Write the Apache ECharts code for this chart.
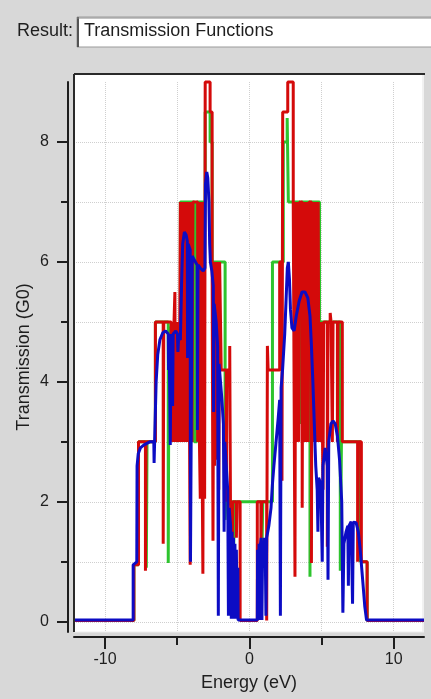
<!DOCTYPE html>
<html>
<head>
<meta charset="utf-8">
<script src="https://cdn.jsdelivr.net/npm/echarts@6/dist/echarts.min.js"></script>
<style>
  html, body { margin: 0; padding: 0; background: #d8d8d8; }
  #chart { width: 431px; height: 699px; }
</style>
</head>
<body>
<div id="chart"></div>
<script>
// Transmission spectra T(E) in units of G0, energies in eV.
const resultTitle = 'Transmission Functions';
const xTickValues = [-10, -5, 0, 5, 10];
const xLabelValues = [-10, 0, 10];
const yTickValues = [0, 1, 2, 3, 4, 5, 6, 7, 8];
const yLabelValues = [0, 2, 4, 6, 8];

// Green curve (step-like, integer channels)
const greenCurve = [
  [-12.15, 0.02], [-8.0, 0.02], [-8.0, 0.95], [-7.68, 0.95], [-7.68, 3.0],
  [-7.14, 3.0], [-7.14, 0.9], [-7.09, 0.9], [-7.09, 3.0],
  [-6.51, 3.0], [-6.51, 5.0],
  [-5.62, 5.0], [-5.62, 0.98], [-5.57, 0.98], [-5.57, 4.9],
  [-4.78, 4.9], [-4.78, 7.0],
  [-3.82, 7.0], [-3.82, 3.0], [-3.64, 3.0], [-3.64, 7.0],
  [-3.06, 7.0], [-3.06, 8.5], [-2.72, 8.5], [-2.72, 8.0], [-2.58, 8.0], [-2.58, 6.0],
  [-1.68, 6.0], [-1.68, 1.7], [-1.63, 1.7], [-1.63, 2.0],
  [-1.08, 2.0], [-1.08, 1.3], [-1.03, 1.3], [-1.03, 2.0],
  [0.88, 2.0], [0.88, 1.3], [0.93, 1.3], [0.93, 2.0],
  [1.6, 2.0], [1.6, 6.0],
  [2.35, 6.0], [2.35, 8.0], [2.62, 8.0], [2.62, 8.4], [2.7, 8.4], [2.7, 7.0],
  [3.5, 7.0], [3.5, 3.3], [3.62, 3.3], [3.62, 7.0],
  [4.2, 7.0], [4.2, 0.75], [4.25, 0.75], [4.25, 7.0],
  [4.86, 7.0], [4.86, 5.0],
  [6.3, 5.0], [6.3, 0.85], [6.38, 0.85], [6.38, 3.0],
  [7.7, 3.0], [7.7, 1.0],
  [8.16, 1.0], [8.16, 0.02], [12.1, 0.02]
];

// Red curve (step-like, integer channels, densely oscillating near the band centres)
const redCurve = [
  [-12.15, 0.02], [-8.0, 0.02], [-8.0, 0.95], [-7.68, 0.95], [-7.68, 3.0],
  [-7.2, 3.0], [-7.2, 0.85], [-7.16, 0.85], [-7.16, 3.0],
  [-6.51, 3.0], [-6.51, 5.0],
  [-5.97, 5.0], [-5.97, 1.3], [-5.93, 1.3], [-5.93, 5.0],
  [-5.42, 5.0], [-5.42, 3.0], [-5.36, 3.0], [-5.36, 5.0],
  [-5.28, 5.0], [-5.28, 3.0], [-5.22, 3.0], [-5.22, 5.0],
  [-5.16, 5.0], [-5.16, 5.5], [-5.12, 5.5], [-5.12, 3.0], [-5.06, 3.0], [-5.06, 5.0],
  [-5.0, 5.0], [-5.0, 3.0], [-4.94, 3.0], [-4.94, 5.0],
  [-4.88, 5.0], [-4.88, 3.0], [-4.82, 3.0], [-4.82, 5.0],
  [-4.78, 5.0], [-4.78, 7.0],
  [-4.7, 7.0], [-4.7, 3.0], [-4.63, 3.0], [-4.63, 7.0], [-4.56, 7.0], [-4.56, 3.0],
  [-4.49, 3.0], [-4.49, 7.0], [-4.42, 7.0], [-4.42, 3.0], [-4.35, 3.0], [-4.35, 7.0],
  [-4.28, 7.0], [-4.28, 3.0], [-4.21, 3.0], [-4.21, 7.0], [-4.14, 7.0], [-4.14, 3.0],
  [-4.1, 3.0], [-4.1, 0.95], [-4.04, 0.95], [-4.04, 7.0],
  [-3.98, 7.0], [-3.98, 3.0], [-3.91, 3.0], [-3.91, 7.0],
  [-3.58, 7.0], [-3.58, 3.0], [-3.52, 3.0], [-3.52, 7.0], [-3.46, 7.0], [-3.46, 3.0],
  [-3.4, 3.0], [-3.4, 2.05], [-3.34, 2.05], [-3.34, 7.0], [-3.28, 7.0], [-3.28, 3.0],
  [-3.22, 3.0], [-3.22, 0.8], [-3.16, 0.8], [-3.16, 7.0],
  [-3.1, 7.0], [-3.1, 2.05], [-3.06, 2.05], [-3.06, 9.0],
  [-2.72, 9.0], [-2.72, 8.5], [-2.58, 8.5], [-2.58, 6.0],
  [-2.52, 6.0], [-2.52, 1.35], [-2.46, 1.35], [-2.46, 6.0], [-2.4, 6.0], [-2.4, 2.6],
  [-2.33, 2.6], [-2.33, 6.0], [-2.26, 6.0], [-2.26, 2.7], [-2.19, 2.7], [-2.19, 6.0],
  [-2.12, 6.0], [-2.12, 2.2], [-2.06, 2.2], [-2.06, 6.0],
  [-1.95, 6.0], [-1.95, 4.2],
  [-1.6, 4.2], [-1.6, 2.0], [-1.55, 2.0], [-1.55, 4.2],
  [-1.36, 4.2], [-1.36, 4.6], [-1.31, 4.6], [-1.31, 2.0],
  [-1.2, 2.0], [-1.2, 1.0], [-1.15, 1.0], [-1.15, 2.0],
  [-0.9, 2.0], [-0.9, 1.4], [-0.85, 1.4], [-0.85, 2.0],
  [-0.64, 2.0], [-0.64, 0.02],
  [0.55, 0.02], [0.55, 2.0],
  [0.8, 2.0], [0.8, 1.3], [0.85, 1.3], [0.85, 2.0],
  [1.2, 2.0], [1.2, 0.02], [1.25, 0.02], [1.25, 4.6], [1.3, 4.6], [1.3, 4.2],
  [2.1, 4.2], [2.1, 6.0],
  [2.26, 6.0], [2.26, 2.35], [2.31, 2.35], [2.31, 8.5],
  [2.66, 8.5], [2.66, 9.0],
  [3.04, 9.0], [3.04, 7.0],
  [3.16, 7.0], [3.16, 0.75], [3.21, 0.75], [3.21, 7.0],
  [3.28, 7.0], [3.28, 3.0], [3.35, 3.0], [3.35, 7.0], [3.42, 7.0], [3.42, 3.0],
  [3.48, 3.0], [3.48, 7.0],
  [3.66, 7.0], [3.66, 1.9], [3.72, 1.9], [3.72, 7.0], [3.79, 7.0], [3.79, 3.0],
  [3.86, 3.0], [3.86, 7.0], [3.93, 7.0], [3.93, 3.0], [4.0, 3.0], [4.0, 7.0],
  [4.07, 7.0], [4.07, 3.0], [4.14, 3.0], [4.14, 7.0],
  [4.3, 7.0], [4.3, 0.98], [4.35, 0.98], [4.35, 7.0],
  [4.42, 7.0], [4.42, 3.0], [4.49, 3.0], [4.49, 7.0], [4.56, 7.0], [4.56, 3.0],
  [4.63, 3.0], [4.63, 7.0], [4.7, 7.0], [4.7, 3.0], [4.77, 3.0], [4.77, 7.0],
  [4.82, 7.0], [4.82, 3.0], [4.86, 3.0], [4.86, 5.0],
  [4.94, 5.0], [4.94, 3.0], [5.0, 3.0], [5.0, 5.0],
  [5.1, 5.0], [5.1, 2.2], [5.15, 2.2], [5.15, 5.0],
  [5.4, 5.0], [5.4, 1.25], [5.45, 1.25], [5.45, 5.0],
  [5.6, 5.0], [5.6, 5.15], [5.66, 5.15], [5.66, 5.0],
  [5.75, 5.0], [5.75, 3.0], [5.8, 3.0], [5.8, 5.0],
  [6.1, 5.0], [6.1, 3.0], [6.15, 3.0], [6.15, 5.0],
  [6.44, 5.0], [6.44, 3.0],
  [7.5, 3.0], [7.5, 1.0], [7.55, 1.0], [7.55, 3.0],
  [7.76, 3.0], [7.76, 1.0],
  [8.16, 1.0], [8.16, 0.02], [12.1, 0.02]
];

// Blue curve (smooth, with sharp dips)
const blueCurve = [
  [-12.15, 0.03], [-8.05, 0.03], [-8.05, 0.95], [-7.8, 1.0], [-7.78, 2.6], [-7.7, 2.8],
  [-7.55, 2.9], [-7.3, 2.95], [-6.9, 3.0], [-6.62, 3.0], [-6.6, 2.65], [-6.48, 2.65],
  [-6.46, 4.0], [-6.35, 4.45], [-6.2, 4.7], [-6.0, 4.82], [-5.8, 4.85], [-5.62, 4.8],
  [-5.6, 4.2], [-5.56, 4.8], [-5.5, 4.78], [-5.48, 2.95], [-5.44, 2.95], [-5.42, 4.8],
  [-5.34, 4.8], [-5.32, 3.6], [-5.28, 4.8], [-5.1, 4.85], [-4.98, 4.8], [-4.95, 4.5],
  [-4.9, 4.75], [-4.78, 4.7], [-4.7, 5.6], [-4.62, 6.3], [-4.5, 6.5], [-4.38, 6.45],
  [-4.3, 6.35], [-4.28, 4.4], [-4.24, 6.3], [-4.1, 6.2], [-4.08, 1.0], [-3.98, 1.0],
  [-3.96, 6.1], [-3.85, 6.05], [-3.62, 5.95], [-3.6, 3.2], [-3.56, 5.95], [-3.4, 5.9],
  [-3.2, 5.85], [-3.08, 5.9], [-3.04, 7.3], [-2.95, 7.5], [-2.88, 7.4], [-2.8, 7.0],
  [-2.75, 6.3], [-2.7, 6.0], [-2.6, 5.85], [-2.5, 5.6], [-2.48, 3.5], [-2.44, 5.3],
  [-2.3, 5.0], [-2.2, 4.6], [-2.15, 0.1], [-2.1, 4.3], [-2.0, 4.0], [-1.9, 3.7],
  [-1.8, 3.3], [-1.75, 1.5], [-1.7, 3.0], [-1.6, 2.6], [-1.5, 2.2], [-1.45, 0.1],
  [-1.4, 1.9], [-1.3, 1.6], [-1.25, 0.05], [-1.2, 1.5], [-1.15, 0.05], [-1.1, 1.4],
  [-1.05, 0.05], [-1.0, 1.3], [-0.95, 0.05], [-0.9, 1.2], [-0.85, 0.05], [-0.8, 0.9],
  [-0.78, 0.03], [0.55, 0.03], [0.57, 1.2], [0.62, 0.03], [0.67, 1.3], [0.72, 0.03],
  [0.77, 1.3], [0.82, 1.4], [0.87, 0.03], [0.92, 1.3], [1.0, 1.25], [1.05, 1.4],
  [1.1, 1.2], [1.15, 0.1], [1.2, 1.4], [1.35, 1.6], [1.5, 1.9], [1.6, 2.3],
  [1.7, 2.6], [1.85, 3.0], [2.0, 3.4], [2.1, 3.7], [2.15, 0.1], [2.2, 3.9],
  [2.3, 4.2], [2.45, 4.8], [2.55, 5.4], [2.63, 5.9], [2.7, 6.0], [2.78, 5.7],
  [2.85, 5.2], [2.95, 4.9], [3.1, 4.85], [3.25, 5.1], [3.45, 5.35], [3.65, 5.5],
  [3.85, 5.5], [4.05, 5.4], [4.2, 5.1], [4.3, 4.6], [4.4, 4.0], [4.5, 3.3],
  [4.6, 2.6], [4.7, 2.2], [4.75, 1.5], [4.8, 2.4], [4.95, 2.3], [5.05, 1.0],
  [5.1, 2.6], [5.25, 2.9], [5.4, 2.6], [5.45, 0.7], [5.5, 3.0], [5.65, 3.3],
  [5.8, 3.35], [5.95, 3.3], [6.1, 3.1], [6.25, 2.7], [6.4, 2.0], [6.48, 0.15],
  [6.55, 1.3], [6.7, 1.5], [6.82, 1.6], [6.86, 0.6], [6.9, 1.6], [7.05, 1.67],
  [7.15, 0.3], [7.2, 1.66], [7.4, 1.65], [7.55, 1.5], [7.68, 1.2], [7.85, 0.7],
  [8.0, 0.25], [8.12, 0.03], [12.1, 0.03]
];

const FONT = 'Liberation Sans, Arial, sans-serif';
const INK = '#1e1e1e';
const X_MIN = -12.15, X_MAX = 12.1;
const Y_MIN = -0.17, Y_MAX = 9.0;

function curve(name, data, color) {
  return {
    name: name,
    type: 'line',
    data: data,
    showSymbol: false,
    symbol: 'none',
    clip: false,
    animation: false,
    lineStyle: { color: color, width: 3 },
    emphasis: { disabled: true }
  };
}

const chart = echarts.init(document.getElementById('chart'));
chart.setOption({
  backgroundColor: '#d8d8d8',
  animation: false,
  textStyle: { fontFamily: FONT },
  grid: { left: 74, right: 7, top: 82, bottom: 67, outerBoundsMode: 'none' },
  graphic: [
    // header field
    { type: 'text', x: 17, y: 31, style: { text: 'Result:', font: '18px ' + FONT, fill: INK, verticalAlign: 'middle' } },
    { type: 'rect', shape: { x: 77, y: 17, width: 360, height: 30 },
      style: { fill: '#ffffff', stroke: '#9a9a9a', lineWidth: 1 } },
    { type: 'line', shape: { x1: 78, y1: 17, x2: 78, y2: 47 }, style: { stroke: '#555', lineWidth: 2 } },
    { type: 'line', shape: { x1: 77, y1: 18, x2: 431, y2: 18 }, style: { stroke: '#888', lineWidth: 1 } },
    { type: 'text', x: 84, y: 31, style: { text: resultTitle, font: '18px ' + FONT, fill: INK, verticalAlign: 'middle' } },
    // plot panel
    { type: 'rect', z: -10, shape: { x: 74, y: 74, width: 350, height: 558 },
      style: { fill: '#ffffff' } },
    { type: 'line', z: -9, shape: { x1: 423, y1: 74, x2: 423, y2: 632 }, style: { stroke: '#e4e4e4', lineWidth: 1 } },
    { type: 'line', z: -9, shape: { x1: 74, y1: 632, x2: 424, y2: 632 }, style: { stroke: '#eeeeee', lineWidth: 1 } },
    { type: 'line', z: 20, shape: { x1: 74, y1: 74, x2: 425, y2: 74 }, style: { stroke: '#2a2a2a', lineWidth: 2 } },
    { type: 'line', z: 20, shape: { x1: 74, y1: 74, x2: 74, y2: 632 }, style: { stroke: '#2a2a2a', lineWidth: 2 } }
  ],
  xAxis: [
    {
      type: 'value', min: X_MIN, max: X_MAX, position: 'bottom', offset: 5,
      name: 'Energy (eV)', nameLocation: 'middle', nameGap: 37, nameMoveOverlap: false,
      nameTextStyle: { fontSize: 18, color: INK, fontFamily: FONT },
      axisLine: { show: true, onZero: false, lineStyle: { color: INK, width: 2 } },
      axisTick: { show: true, customValues: xTickValues, length: 8, lineStyle: { color: INK, width: 2 } },
      axisLabel: { customValues: xLabelValues, fontSize: 16, color: INK, margin: 15, fontFamily: FONT },
      splitLine: { show: true, lineStyle: { color: '#cfcfcf', type: 'dotted', width: 1 } }
    },
    {
      type: 'value', min: X_MIN, max: X_MAX, position: 'bottom', offset: 5,
      axisLine: { show: false, onZero: false },
      axisTick: { show: true, customValues: xLabelValues, length: 12, lineStyle: { color: INK, width: 2 } },
      axisLabel: { show: false },
      splitLine: { show: false }
    }
  ],
  yAxis: [
    {
      type: 'value', min: Y_MIN, max: Y_MAX, position: 'left', offset: 6,
      name: 'Transmission (G0)', nameLocation: 'middle', nameGap: 35, nameMoveOverlap: false,
      nameTextStyle: { fontSize: 18, color: INK, fontFamily: FONT },
      axisLine: { show: true, onZero: false, lineStyle: { color: INK, width: 2 } },
      axisTick: { show: true, customValues: yTickValues, length: 7, lineStyle: { color: INK, width: 2 } },
      axisLabel: { customValues: yLabelValues, fontSize: 16, color: INK, margin: 19, fontFamily: FONT },
      splitLine: { show: true, lineStyle: { color: '#cfcfcf', type: 'dotted', width: 1 } }
    },
    {
      type: 'value', min: Y_MIN, max: Y_MAX, position: 'left', offset: 6,
      axisLine: { show: false, onZero: false },
      axisTick: { show: true, customValues: yLabelValues, length: 11, lineStyle: { color: INK, width: 2 } },
      axisLabel: { show: false },
      splitLine: { show: false }
    }
  ],
  series: [
    curve('green', greenCurve, '#2ec42e'),
    curve('red', redCurve, '#d40a0a'),
    curve('blue', blueCurve, '#0c0cc4')
  ]
});
</script>
</body>
</html>
